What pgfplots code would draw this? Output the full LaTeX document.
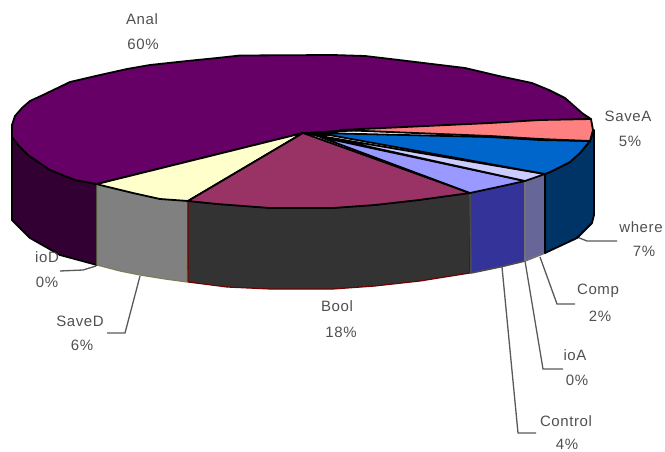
\documentclass[border=0pt]{standalone}
\usepackage{fontspec}
\setmainfont[LetterSpace=4]{Liberation Sans}
\usepackage{pgfplots}
\pgfplotsset{compat=1.18}

\definecolor{analtop}{HTML}{660066}
\definecolor{analside}{HTML}{330033}
\definecolor{saveatop}{HTML}{FF8080}
\definecolor{wheretop}{HTML}{0066CC}
\definecolor{whereside}{HTML}{003366}
\definecolor{comptop}{HTML}{CCCCFF}
\definecolor{compside}{HTML}{666699}
\definecolor{controltop}{HTML}{9999FF}
\definecolor{controlside}{HTML}{333399}
\definecolor{booltop}{HTML}{993366}
\definecolor{boolside}{HTML}{333333}
\definecolor{savedtop}{HTML}{FFFFCC}
\definecolor{savedside}{HTML}{808080}
\definecolor{labeltext}{HTML}{505050}

\tikzset{
  pielabel/.style={font=\fontsize{15}{15}\selectfont, text=labeltext, inner sep=0pt, anchor=center},
}
\pgfplotsset{
  wedge/.style={no markers, draw=black, line width=1.8pt, line join=round, fill=#1},
  leader/.style={no markers, draw=black!65, line width=1.3pt, line join=miter},
}

\begin{document}
\begin{tikzpicture}
\path[use as bounding box] (0,0) rectangle (665pt,451pt);
\begin{axis}[
  at={(0,0)}, anchor=south west,
  scale only axis, width=665pt, height=451pt,
  xmin=0, xmax=665, ymin=0, ymax=451,
  y dir=reverse, hide axis, clip=false,
]
% Leader lines from the pie rim to the labels
\addplot[leader] coordinates {(60,271) (83,270) (96,266)};
\addplot[leader] coordinates {(140,276) (125,333) (107,333)};
\addplot[leader] coordinates {(577,237) (587,241) (617,241)};
\addplot[leader] coordinates {(540,257) (557,304) (575,304)};
\addplot[leader] coordinates {(525,261) (543,369) (563,369)};
\addplot[leader] coordinates {(502,267) (518,433) (536,433)};

% Rim of the pie
\addplot[wedge=analside] coordinates {(12,125) (12,220) (30,238) (60,255) (97,265) (97,184) (75,180) (50,170) (28,155) (12,137)} -- cycle;
\addplot[wedge=savedside, draw=black!60!yellow!70!gray, line width=1.2pt] coordinates {(97,184) (97,265) (120,271) (140,275) (165,279) (187,282) (188,201) (160,199) (133,193) (100,185)} -- cycle;
\addplot[wedge=boolside, draw=black!55!red, line width=1.2pt] coordinates {(188,201) (188,282) (227,287) (270,289) (333,289) (375,286) (420,281) (470,273) (470,193) (419,200) (375,205) (333,208) (270,208) (217,204)} -- cycle;
\addplot[wedge=controlside, draw=black!70, line width=1.6pt] coordinates {(470,193) (471,273) (500,267) (525,261) (525,181)} -- cycle;
\addplot[wedge=compside, draw=black!55, line width=1.6pt] coordinates {(525,181) (525,261) (545,253) (545,174)} -- cycle;
\addplot[wedge=whereside] coordinates {(545,174) (545,253) (577,238) (592,223) (594,215) (594,130) (590,141) (580,153) (570,162) (550,172)} -- cycle;

% Top face, one wedge per category
\addplot[wedge=analtop] coordinates {(303,133) (591,119) (582,113) (565,98) (549,90) (532,83) (499,76) (465,68) (432,64) (399,60) (365,56) (333,55) (240,55.5) (217,58) (187,61) (150,65) (127,69) (100,75) (70,82) (43,95) (30,101) (22,108) (15,116) (12,125) (12,137) (19,146) (28,155) (50,170) (75,180) (97,184)} -- cycle;
\addplot[wedge=savedtop] coordinates {(303,133) (97,184) (100,185) (133,193) (160,199) (188,201)} -- cycle;
\addplot[wedge=booltop] coordinates {(303,133) (188,201) (217,204) (270,208) (333,208) (375,205) (419,200) (470,193)} -- cycle;
\addplot[wedge=controltop] coordinates {(320,137) (470,193) (498,187) (525,181)} -- cycle;
\addplot[wedge=comptop] coordinates {(320,136) (525,181) (545,174)} -- cycle;
\addplot[wedge=wheretop] coordinates {(318,133) (545,174) (550,172) (570,162) (580,153) (590,141) (540,140) (490,137)} -- cycle;
\addplot[wedge=saveatop] coordinates {(340,130) (490,123) (540,120) (591,119) (593,130) (590,141) (540,139) (490,136)} -- cycle;
% Dark hub where the thin wedges meet
\addplot[no markers, draw=black, fill=black, line width=0.8pt] coordinates {(303,133) (345,130) (325,136) (320,137)} -- cycle;

% Category names and shares
\node[pielabel] at (axis cs:142,19) {Anal};
\node[pielabel] at (axis cs:143,44) {60\%};
\node[pielabel] at (axis cs:628,116) {SaveA};
\node[pielabel] at (axis cs:630,141) {5\%};
\node[pielabel] at (axis cs:641,227) {where};
\node[pielabel] at (axis cs:644,251) {7\%};
\node[pielabel] at (axis cs:598,291) {Comp};
\node[pielabel] at (axis cs:600,316) {2\%};
\node[pielabel] at (axis cs:575,355) {ioA};
\node[pielabel] at (axis cs:577,380) {0\%};
\node[pielabel] at (axis cs:566,421) {Control};
\node[pielabel] at (axis cs:567,444) {4\%};
\node[pielabel] at (axis cs:337,306) {Bool};
\node[pielabel] at (axis cs:341,332) {18\%};
\node[pielabel] at (axis cs:80,321) {SaveD};
\node[pielabel] at (axis cs:82,345) {6\%};
\node[pielabel] at (axis cs:47,257) {ioD};
\node[pielabel] at (axis cs:47,282) {0\%};
\end{axis}
\end{tikzpicture}
\end{document}
